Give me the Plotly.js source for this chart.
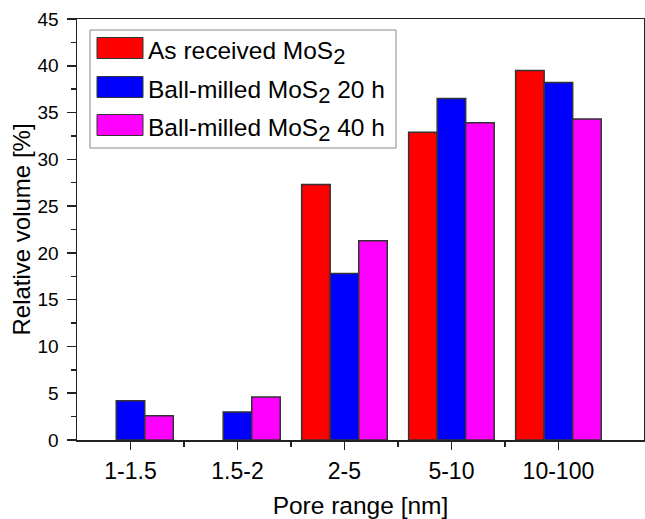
<!DOCTYPE html>
<html>
<head>
<meta charset="utf-8">
<script src="https://cdn.plot.ly/plotly-3.0.1.min.js"></script>
<style>
  html, body { margin: 0; padding: 0; background: #fff; }
  #chart { width: 645px; height: 519px; }
</style>
</head>
<body>
<div id="chart"></div>
<script>
// Pore size ranges (nm) and relative pore volume (%) for each sample
const categories = ['1-1.5', '1.5-2', '2-5', '5-10', '10-100'];
const seriesNames = ['As received MoS<sub>2</sub>', 'Ball-milled MoS<sub>2</sub> 20 h', 'Ball-milled MoS<sub>2</sub> 40 h'];
const asReceived = [null, null, 27.3, 32.9, 39.5];
const milled20h = [4.2, 3.0, 17.8, 36.5, 38.2];
const milled40h = [2.6, 4.6, 21.3, 33.9, 34.3];
const seriesColors = ['#ff0000', '#0000ff', '#ff00ff'];

const FONT = 'Arial, "Liberation Sans", sans-serif';
const INK = '#222222';

// plot box in pixels
const W = 645, H = 519;
const M = { l: 77, r: 1, t: 19, b: 79 };
const PW = W - M.l - M.r, PH = H - M.t - M.b;
const px = x => (x - M.l) / PW;
const py = y => (H - M.b - y) / PH;

const xIdx = categories.map((_, i) => i);
const seriesData = [asReceived, milled20h, milled40h];

const traces = seriesData.map((vals, k) => ({
  type: 'bar',
  x: xIdx,
  y: vals,
  name: seriesNames[k],
  marker: { color: seriesColors[k], line: { color: '#333333', width: 1.5 } },
  showlegend: false,
  hoverinfo: 'none'
}));

// legend labels with a near full-size subscript
const legendText = seriesNames.map(s =>
  s.replace('<sub>2</sub>', '<sub><span style="font-size:22px">2</span></sub>'));

// boxed legend with large swatches
const shapes = [{
  type: 'rect', xref: 'paper', yref: 'paper',
  x0: px(90), x1: px(396), y0: py(148), y1: py(30),
  line: { color: '#888888', width: 1 }, fillcolor: '#ffffff', layer: 'above'
}];
const annotations = [];
const rowY = [48, 87, 125];
rowY.forEach((cy, k) => {
  shapes.push({
    type: 'rect', xref: 'paper', yref: 'paper',
    x0: px(97), x1: px(143), y0: py(cy + 10.5), y1: py(cy - 10.5),
    line: { color: '#333333', width: 1 }, fillcolor: seriesColors[k], layer: 'above'
  });
  annotations.push({
    xref: 'paper', yref: 'paper', x: px(146), y: py(cy + 5),
    xanchor: 'left', yanchor: 'middle', showarrow: false,
    text: legendText[k], font: { family: FONT, size: 24.5, color: '#000' }
  });
});

const layout = {
  width: W, height: H,
  margin: M,
  paper_bgcolor: '#fff', plot_bgcolor: '#fff',
  font: { family: FONT, color: '#000' },
  barmode: 'group', bargap: 0.2, bargroupgap: 0,
  xaxis: {
    type: 'linear', range: [-0.5, 4.8],
    tickmode: 'array', tickvals: xIdx, ticktext: categories,
    ticks: 'outside', ticklen: 8, tickwidth: 1.5, tickcolor: INK,
    minor: { tickmode: 'array', tickvals: [0.5, 1.5, 2.5, 3.5], ticks: 'outside', ticklen: 5, tickwidth: 1.5, tickcolor: INK },
    showline: true, linecolor: INK, linewidth: 1.5, mirror: true,
    showgrid: false, zeroline: false,
    tickfont: { family: FONT, size: 23, color: '#000' },
    ticklabelstandoff: 2,
    title: { text: 'Pore range [nm]', font: { family: FONT, size: 24.5, color: '#000' }, standoff: 21 }
  },
  yaxis: {
    range: [0, 45], dtick: 5,
    ticks: 'outside', ticklen: 9, tickwidth: 1.5, tickcolor: INK,
    minor: { dtick: 2.5, ticks: 'outside', ticklen: 4.5, tickwidth: 1.5, tickcolor: INK },
    showline: true, linecolor: INK, linewidth: 1.5, mirror: true,
    showgrid: false, zeroline: false,
    tickfont: { family: FONT, size: 19, color: '#000' },
    ticklabelstandoff: 4,
    title: { text: 'Relative volume [%]', font: { family: FONT, size: 24, color: '#000' }, standoff: 0 }
  },
  yaxis2: {
    overlaying: 'y', side: 'right', range: [0, 45], dtick: 5,
    ticks: 'inside', ticklen: 8, tickwidth: 1.5, tickcolor: INK,
    minor: { dtick: 2.5, ticks: 'inside', ticklen: 4, tickwidth: 1.5, tickcolor: INK },
    showticklabels: false, showgrid: false, zeroline: false, showline: false
  },
  shapes: shapes,
  annotations: annotations
};

Plotly.newPlot('chart', traces, layout, { displayModeBar: false, staticPlot: true });
</script>
</body>
</html>
